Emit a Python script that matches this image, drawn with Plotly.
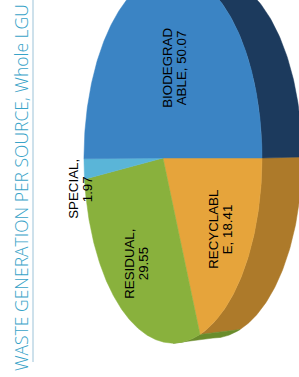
import numpy as np
import plotly.graph_objects as go

# ---- data (slice order starts at the right-hand edge and runs clockwise on screen)
categories = ["RECYCLABLE", "RESIDUAL", "SPECIAL", "BIODEGRADABLE"]
values = [18.41, 29.55, 1.97, 50.07]
label_line1 = ["RECYCLABL", "RESIDUAL,", "SPECIAL,", "BIODEGRAD"]
label_line2 = ["E, 18.41", "29.55", "1.97", "ABLE, 50.07"]
title_text = "WASTE GENERATION PER SOURCE, Whole LGU"

# ---- styles / geometry (pixel space)
top_colors = ["#e6a43b", "#89b13d", "#5ab5d8", "#3b84c4"]
side_colors = ["#ad7a2a", "#6a8c2c", "#3c86a6", "#1c3a5d"]
label_pos = [(220, 229), (136, 264), (80, 189), (174, 68)]
LINE_GAP = 14.5
X0, Y0, A, B, K = 163.0, 158.0, 87.9, 184.0, 0.112
DX, DY, SY = 40.0, -1.0, 0.978


def proj(theta_deg, r=1.0):
    t = np.radians(theta_deg)
    u = r * np.cos(t)
    v = r * np.sin(t)
    w = 1 - K * u
    return X0 + A * u / w, Y0 + B * v / w


vals = np.array(values, dtype=float)
bounds = np.concatenate([[0.0], np.cumsum(vals) / vals.sum() * 360.0])

fig = go.Figure()

# side walls (only the visible near half)
lim = np.degrees(np.arccos(K))
vis_ranges = [(0.0, lim), (360.0 - lim, 360.0)]
for i in range(len(values)):
    a, b = bounds[i], bounds[i + 1]
    for lo, hi in vis_ranges:
        s, e = max(a, lo), min(b, hi)
        if e <= s:
            continue
        th = np.linspace(s, e, 80)
        xt, yt = proj(th)
        xb = xt + DX
        yb = Y0 + (yt - Y0) * SY + DY
        xs = np.concatenate([xt, xb[::-1], [xt[0]]])
        ys = np.concatenate([yt, yb[::-1], [yt[0]]])
        fig.add_trace(go.Scatter(x=xs, y=ys, mode="lines", fill="toself",
                                 fillcolor=side_colors[i],
                                 line=dict(color=side_colors[i], width=0.5),
                                 hoverinfo="skip"))

# top faces
for i in range(len(values)):
    a, b = bounds[i], bounds[i + 1]
    th = np.linspace(a, b, max(4, int((b - a) * 2)))
    xt, yt = proj(th)
    xs = np.concatenate([[X0], xt, [X0]])
    ys = np.concatenate([[Y0], yt, [Y0]])
    fig.add_trace(go.Scatter(x=xs, y=ys, mode="lines", fill="toself",
                             fillcolor=top_colors[i],
                             line=dict(color=top_colors[i], width=0.5),
                             hoverinfo="skip", name=categories[i]))

annotations = []
lab_font = dict(family="Liberation Sans, Arial", size=13.3, color="#000000")
for l1, l2, (lx, ly) in zip(label_line1, label_line2, label_pos):
    annotations.append(dict(x=lx - LINE_GAP / 2, y=ly, xref="x", yref="y", text=l1,
                            showarrow=False, textangle=-90, font=lab_font))
    annotations.append(dict(x=lx + LINE_GAP / 2, y=ly, xref="x", yref="y", text=l2,
                            showarrow=False, textangle=-90, font=lab_font))

annotations.append(dict(x=21, y=188, xref="x", yref="y", text=title_text, showarrow=False,
                        textangle=-90,
                        font=dict(family="Open Sans", size=17.5, color="#38a3c8", weight=300)))

fig.update_layout(
    width=299, height=377,
    margin=dict(l=0, r=0, t=0, b=0),
    paper_bgcolor="white", plot_bgcolor="white",
    showlegend=False,
    xaxis=dict(range=[0, 299], visible=False, fixedrange=True),
    yaxis=dict(range=[377, 0], visible=False, fixedrange=True),
    annotations=annotations,
    shapes=[dict(type="line", xref="x", yref="y", x0=33, x1=33, y0=0, y1=362,
                 line=dict(color="#9cc3d8", width=1))],
)

fig.write_html("out.html", config={"displayModeBar": False},
               post_script="document.body.style.margin='0';document.body.style.overflow='hidden';")
